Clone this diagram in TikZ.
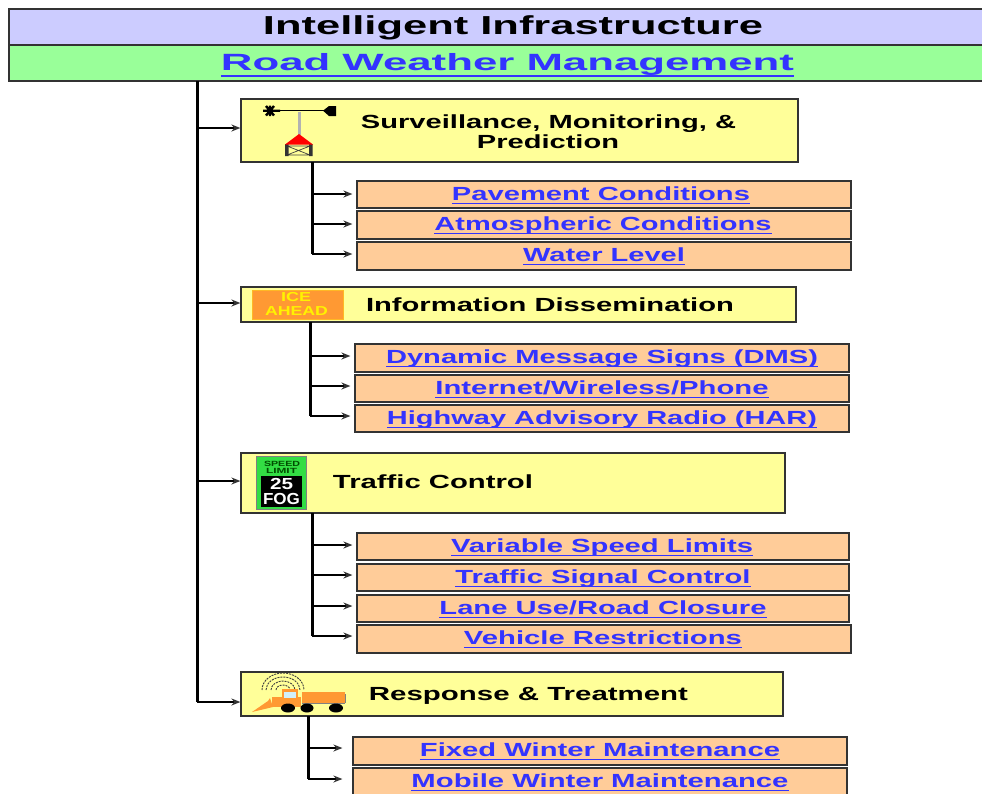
\documentclass[tikz,border=0pt]{standalone}
\usepackage{graphicx}
\usepackage{fontspec}
\setmainfont{Liberation Sans}
\usetikzlibrary{arrows.meta,calc}
\definecolor{tblue}{HTML}{CCCCFF}
\definecolor{tgreen}{HTML}{99FF99}
\definecolor{tyellow}{HTML}{FFFF99}
\definecolor{torange}{HTML}{FFCC99}
\definecolor{linkblue}{HTML}{3333FF}
\definecolor{edgegray}{HTML}{333333}
\definecolor{plow}{HTML}{FF9933}
\definecolor{signgreen}{HTML}{33DD44}
% text stretched to a width, with its capitals centred on the node centre
\newcommand{\fitw}[2]{\raisebox{\dimexpr1pt-.345em\relax}[0pt][0pt]{\resizebox{#1pt}{\height}{#2}}}
\newcommand{\fitn}[2]{\raisebox{-.345em}[0pt][0pt]{\resizebox{#1pt}{\height}{#2}}}
\newcommand{\lk}[2][-.2em]{\textcolor{linkblue}{\setbox0\hbox{#2}\rlap{\rule[#1]{\wd0}{1.2pt}}\box0}}
\tikzset{
  x=1pt,y=-1pt,
  plainbox/.style={draw=edgegray,line width=1.2pt,inner sep=0pt,anchor=center,text=black,font=\bfseries\fontsize{19}{22}\selectfont},
  headbox/.style={plainbox,fill=tblue,font=\bfseries\fontsize{26}{28}\selectfont},
  subbox/.style={plainbox,fill=tgreen,font=\bfseries\fontsize{23.5}{26}\selectfont},
  catbox/.style={plainbox,fill=tyellow},
  linkbox/.style={plainbox,fill=torange},
  cattext/.style={inner sep=0pt,font=\bfseries\fontsize{19}{21}\selectfont},
  signtext/.style={inner sep=0pt,font=\bfseries\fontsize{#1}{#1}\selectfont},
  stem/.style={black,line width=3pt,line join=round},
  branch/.style={black,line width=1.7pt,-{Stealth[length=9pt,width=7pt,color=edgegray]}},
}
% name, x1, y1, x2, y2, style, x-shift of the text, text width, text
\newcommand{\bx}[9]{%
  \node[#6,minimum width={(#4-#2)*1pt},minimum height={(#5-#3)*1pt}] (#1) at ({(#2+#4)/2},{(#3+#5)/2})
    {\hspace*{#7pt}\fitw{#8}{#9}};}
\newcommand{\cbx}[5]{%
  \node[catbox,minimum width={(#4-#2)*1pt},minimum height={(#5-#3)*1pt}] (#1) at ({(#2+#4)/2},{(#3+#5)/2}) {};}
\begin{document}
\begin{tikzpicture}
\useasboundingbox (0,0) rectangle (982,793);
\clip (0,0) rectangle (982,793);
\fill[white] (0,0) rectangle (982,793);

\bx{head}{9}{9}{1000}{45}{headbox}{17}{500}{Intelligent Infrastructure}
\bx{sub}{9}{45}{1000}{81}{subbox}{6}{573}{\lk[-.28em]{Road Weather Management}}

\cbx{c1}{241}{99}{798}{162}
\node[cattext] (c1a) at (548.5,122) {\fitn{375}{Surveillance, Monitoring, \&}};
\node[cattext] (c1b) at (548,142) {\fitn{142}{Prediction}};
\cbx{c2}{241}{287}{796}{322}
\node[cattext] (c2a) at (550,305) {\fitn{368}{Information Dissemination}};
\cbx{c3}{241}{453}{785}{513}
\node[cattext] (c3a) at (433,482) {\fitn{200}{Traffic Control}};
\cbx{c4}{241}{672}{783}{716}
\node[cattext] (c4a) at (528.5,694) {\fitn{319}{Response \& Treatment}};

\bx{a1}{357}{181}{851}{208}{linkbox}{-6}{298}{\lk{Pavement Conditions}}
\bx{a2}{357}{211}{851}{239}{linkbox}{-2}{337}{\lk{Atmospheric Conditions}}
\bx{a3}{357}{242}{851}{270}{linkbox}{0}{162}{\lk{Water Level}}
\bx{b1}{355}{344}{849}{372}{linkbox}{0}{432}{\lk{Dynamic Message Signs (DMS)}}
\bx{b2}{355}{375}{849}{402}{linkbox}{0}{333}{\lk{Internet/Wireless/Phone}}
\bx{b3}{355}{405}{849}{432}{linkbox}{0}{430}{\lk{Highway Advisory Radio (HAR)}}
\bx{d1}{357}{533}{849}{560}{linkbox}{-2}{302}{\lk{Variable Speed Limits}}
\bx{d2}{357}{564}{849}{591}{linkbox}{0}{295}{\lk{Traffic Signal Control}}
\bx{d3}{357}{595}{849}{622}{linkbox}{0}{327}{\lk{Lane Use/Road Closure}}
\bx{d4}{357}{625}{851}{653}{linkbox}{-2}{278}{\lk{Vehicle Restrictions}}
\bx{e1}{353}{737}{847}{765}{linkbox}{0}{360}{\lk{Fixed Winter Maintenance}}
\bx{e2}{353}{768}{847}{795}{linkbox}{0}{377}{\lk{Mobile Winter Maintenance}}

% main trunk
\coordinate (t0) at (197,81);
\coordinate (t4) at (197,702);
\draw[stem] (t0) -- (t4);
\foreach \c/\y in {c1/128,c2/303,c3/481,c4/702}{
  \draw[branch] (197,\y) -- (\c.west |- 0,\y);
}
% sub trunks
\draw[stem] (312,162) -- (312,254);
\foreach \b/\y in {a1/194,a2/224,a3/254}{\draw[branch] (312,\y) -- ([xshift=-4pt]\b.west |- 0,\y);}
\draw[stem] (310,322) -- (310,416);
\foreach \b/\y in {b1/356,b2/386,b3/416}{\draw[branch] (310,\y) -- ([xshift=-4pt]\b.west |- 0,\y);}
\draw[stem] (312,513) -- (312,636);
\foreach \b/\y in {d1/545,d2/575,d3/606,d4/636}{\draw[branch] (312,\y) -- ([xshift=-4pt]\b.west |- 0,\y);}
\draw[stem] (308,716) -- (308,779);
\foreach \b/\y in {e1/748,e2/779}{\draw[branch] (308,\y) -- ([xshift=-10pt]\b.west |- 0,\y);}

% anemometer icon
\draw[black,line width=1pt] (270,110.7) -- (328,110.7);
\draw[gray!60,line width=3pt] (299,112) -- (299,135);
\draw[black,line width=2.4pt] (263,110.7) -- (280,110.7) (266,106) -- (274,115.5) (274,106) -- (266,115.5) (270,105.5) -- (270,116);
\fill[black] (323,110.7) -- (329,106) -- (336,106) -- (336,116) -- (329,116) -- cycle;
\draw[black!75,line width=.7pt] (287,146) -- (310,155) (310,146) -- (287,155) (287,146) -- (310,146) (287,155) -- (310,155);
\fill[black!80] (285,144) rectangle (288.5,156) (309,144) rectangle (312.5,156);
\fill[red] (299,134) -- (313,144.5) -- (285,144.5) -- cycle;

% ICE AHEAD sign
\node[fill=plow,draw=plow!70!yellow,line width=.8pt,minimum width=91pt,minimum height=29pt,inner sep=0pt,anchor=north west] (ice) at (252,290) {};
\node[signtext=13,text=yellow] (icea) at (296,297.5) {\fitn{30}{ICE}};
\node[signtext=13,text=yellow] (iceb) at (296.5,311.5) {\fitn{63}{AHEAD}};

% speed limit sign
\node[fill=signgreen,draw=gray,line width=1pt,minimum width=50pt,minimum height=53pt,inner sep=0pt,anchor=north west] (sign) at (256,456) {};
\node[fill=black,minimum width=41pt,minimum height=31pt,inner sep=0pt,anchor=north west] (signp) at (261,476) {};
\node[signtext=7.5,text=black!70!green] (signt) at (282,464) {\fitn{36}{SPEED}};
\node[signtext=7.5,text=black!70!green] (signl) at (281.5,470.5) {\fitn{31}{LIMIT}};
\node[signtext=16,text=white] (sign25) at (281.5,483.5) {\fitn{23}{25}};
\node[signtext=16,text=white] (signfog) at (281.5,498.5) {\fitn{37}{FOG}};

% plow truck icon
\foreach \rx/\ry in {7/5,12/9,17/13,21/17}{\draw[black!75,line width=.9pt,dash pattern=on 2pt off 1pt] ({283-\rx},690) arc[start angle=180,end angle=360,x radius=\rx,y radius=\ry];}
\fill[plow] (302,692) rectangle (345,703);
\draw[gray,line width=1pt] (345,694) -- (345,703);
\draw[gray,line width=1pt] (302,703.5) -- (345,703.5);
\fill[plow] (282,689) rectangle (297.5,699);
\fill[plow] (272,696.5) rectangle (301,707);
\fill[cyan!18] (283.5,692) rectangle (295.5,698);
\fill[plow] (252,712) -- (268,701) -- (270,698) -- (273,707) -- cycle;
\fill[black] (288,708) ellipse[x radius=7,y radius=4.5];
\fill[black] (307,708) ellipse[x radius=6.5,y radius=4.5];
\fill[black] (336,708) ellipse[x radius=7,y radius=4.5];
\end{tikzpicture}
\end{document}
